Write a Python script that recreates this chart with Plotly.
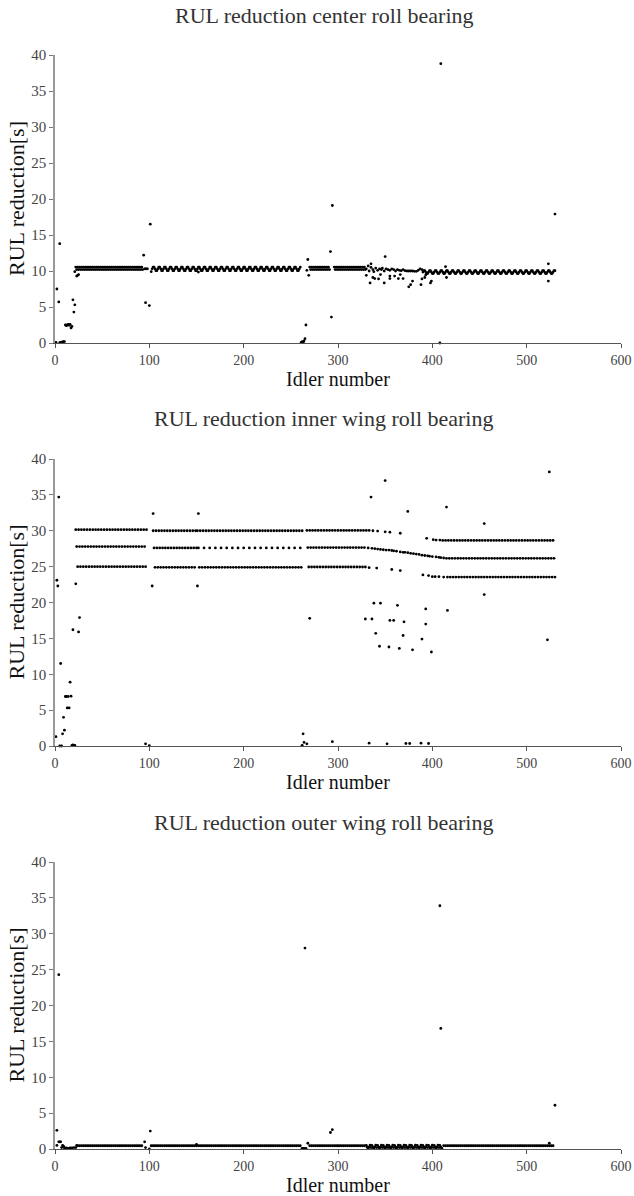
import plotly.graph_objects as go

FONT = "Liberation Serif, Times New Roman, serif"

# ---------------- tick labels / texts ----------------
idler_ticks = [0, 100, 200, 300, 400, 500, 600]
rul_ticks = [0, 5, 10, 15, 20, 25, 30, 35, 40]
panel_titles = ["RUL reduction center roll bearing",
                "RUL reduction inner wing roll bearing",
                "RUL reduction outer wing roll bearing"]
x_title = "Idler number"
y_title = "RUL reduction[s]"

# ---------------- center roll bearing ----------------
# runs of consecutive idlers: (first idler, last idler, repeating levels read from the bands; None = no dot)
center_runs = [
    (22, 93, [10.55, 10.2]),
    (95, 98, [10.3]),
    (103, 260, [10.3, 10.55, 10.55, 10.3, 10.05, 10.05]),
    (270, 291, [10.55, 10.2]),
    (296, 329, [10.55, 10.2]),
    (390, 530, [9.85, 10.05, 10.05, 9.85, 9.65, 9.65]),
]
center_mid_x = [330, 332, 333, 335, 337, 338, 340, 342, 344, 346, 347, 349, 351, 353, 355, 357,
                359, 361, 363, 365, 367, 369, 371, 373, 375, 377, 379, 381, 383, 385, 387, 389]
center_mid_y = [10.3, 10.7, 10.0, 10.5, 10.2, 9.9, 10.4, 10.1, 10.3, 10.2, 10.4, 10.0, 10.3, 10.2, 10.1, 10.3,
                10.2, 10.0, 10.2, 10.1, 10.05, 10.2, 10.05, 10.0, 10.0, 10.0, 10.0, 9.95, 9.95, 10.1, 10.3, 10.2]
center_out_x = [1, 2, 4, 5, 5, 6, 7, 8, 9, 10,
                11, 12, 13, 14, 15, 16, 17, 18, 19, 20, 21, 21, 23, 24, 25,
                94, 96, 100, 101, 102, 152,
                261, 262, 263, 264, 265, 266, 267, 268, 269,
                292, 293, 294,
                330, 334, 335, 337, 339, 343, 345, 349, 350, 355, 355, 360, 364, 366, 369,
                375, 377, 379, 388, 389, 392, 393, 398, 399,
                408, 409, 414, 415, 523, 523, 530]
center_out_y = [0.1, 7.5, 5.7, 13.8, 0.05, 0.1, 0.05, 0.15, 0.2, 0.2,
                2.5, 2.4, 2.5, 2.6, 2.45, 2.6, 2.1, 2.3, 6.0, 4.3, 5.3, 9.9, 9.3, 9.4, 9.5,
                12.2, 5.6, 5.2, 16.5, 9.9, 9.85,
                0.1, 0.2, 0.1, 0.3, 0.6, 2.5, 10.1, 11.6, 9.4,
                12.7, 3.6, 19.1,
                9.4, 8.35, 11.0, 9.1, 8.95, 8.9, 9.5, 8.35, 12.0, 9.3, 8.95, 9.3, 8.95, 9.5, 8.95,
                7.8, 8.1, 8.6, 8.1, 8.9, 9.1, 9.45, 8.35, 8.6,
                0.0, 38.8, 10.6, 9.1, 11.0, 8.6, 17.9]

# ---------------- inner wing roll bearing ----------------
inner_runs = [
    (22, 97, [30.15, 27.8, 25.0]),
    (104, 150, [30.0, 27.6, 24.9]),
    (151, 262, [30.0, 27.6, 24.9, 30.0, None, 24.9]),
    (267, 330, [30.05, 27.65, 24.95]),
    (414, 530, [28.65, 26.15, 23.55]),
]
inner_mid_x = [333, 337, 342, 350, 355, 366,                      # upper band fading
               333, 341, 357, 366,                                # lower band fading
               332, 336, 339, 342, 345, 348, 351, 354, 357, 359, 362, 366, 369, 371,
               374, 377, 380, 383, 386, 389, 392, 395, 397, 400, 404, 407, 409, 412,  # middle band
               394, 401, 404, 408, 411,                           # new upper band
               390, 396, 400, 403, 407, 412]                      # new lower band
inner_mid_y = [30.05, 30.0, 29.95, 29.85, 29.8, 29.65,
               24.85, 24.8, 24.6, 24.45,
               27.6, 27.55, 27.5, 27.45, 27.4, 27.35, 27.3, 27.3, 27.25, 27.2, 27.15, 27.05, 27.0, 27.0,
               26.95, 26.85, 26.8, 26.75, 26.7, 26.6, 26.55, 26.5, 26.45, 26.4, 26.35, 26.3, 26.25, 26.2,
               28.95, 28.75, 28.7, 28.7, 28.65,
               23.85, 23.75, 23.6, 23.6, 23.6, 23.55]
inner_out_x = [1, 2, 3, 4, 5, 6, 7, 8, 9, 10, 11, 12, 14, 17, 13, 15, 16,
               18, 19, 20, 21, 19, 22, 25, 26,
               96, 100, 103, 104, 151, 152,
               262, 263, 264, 267, 270, 294,
               335, 350, 374, 415, 455, 524, 455,
               338, 345, 363, 393, 416, 329, 336, 355, 359, 370, 393,
               340, 369, 389, 344, 354, 365, 379, 399, 522,
               333, 352, 372, 376, 388, 396]
inner_out_y = [1.3, 23.1, 22.3, 34.7, 0.0, 11.5, 0.0, 1.7, 4.0, 2.2, 6.9, 6.9, 6.9, 6.95, 5.3, 5.3, 8.9,
               0.1, 0.15, 0.1, 0.1, 16.2, 22.6, 15.9, 17.9,
               0.3, 0.05, 22.3, 32.4, 22.3, 32.4,
               0.1, 1.7, 0.5, 0.3, 17.8, 0.6,
               34.7, 37.0, 32.7, 33.3, 31.0, 38.2, 21.1,
               19.9, 19.9, 19.6, 19.1, 18.9, 17.7, 17.7, 17.5, 17.5, 17.3, 17.0,
               15.7, 15.4, 14.9, 13.9, 13.8, 13.6, 13.4, 13.1, 14.8,
               0.4, 0.3, 0.35, 0.35, 0.4, 0.35]

# ---------------- outer wing roll bearing ----------------
outer_runs = [
    (24, 93, [0.45, None]),
    (102, 260, [0.45, None]),
    (270, 329, [0.45, None]),
    (330, 410, [0.5, 0.25, 0.1, 0.3, 0.55, 0.2]),
    (412, 528, [0.45, None]),
]
outer_out_x = [2, 2, 4, 4, 5, 6, 7, 8, 9, 10, 12, 14, 16, 18, 20, 22, 23,
               95, 96, 100, 101, 150,
               262, 263, 264, 265, 266, 268, 292, 294,
               408, 409, 524, 530]
outer_out_y = [2.6, 0.5, 24.3, 1.0, 1.0, 1.0, 0.2, 0.5, 0.4, 0.15, 0.15, 0.1, 0.15, 0.15, 0.2, 0.2, 0.5,
               1.0, 0.2, 0.0, 2.5, 0.65,
               0.1, 0.05, 0.1, 28.0, 0.1, 0.8, 2.3, 2.7,
               33.9, 16.8, 0.8, 6.1]


def expand(runs):
    xs, ys = [], []
    for first, last, levels in runs:
        for k, idler in enumerate(range(first, last + 1)):
            v = levels[k % len(levels)]
            if v is not None:
                xs.append(idler)
                ys.append(v)
    return xs, ys


cx, cy = expand(center_runs)
ix, iy = expand(inner_runs)
ox, oy = expand(outer_runs)

panels = [
    (cx + center_mid_x + center_out_x, cy + center_mid_y + center_out_y),
    (ix + inner_mid_x + inner_out_x, iy + inner_mid_y + inner_out_y),
    (ox + outer_out_x, oy + outer_out_y),
]

H = 1196.0
L, R = 55, 13
plot_w = 634 - L - R
# (top px, bottom px) of each plot area
boxes = [(55, 343), (459, 746), (862, 1149)]

fig = go.Figure()
annotations = []
for i, ((px, py), (top, bot)) in enumerate(zip(panels, boxes)):
    n = "" if i == 0 else str(i + 1)
    fig.add_trace(go.Scatter(
        x=px, y=py, mode="markers", xaxis="x" + n, yaxis="y" + n,
        marker=dict(color="black", size=2.8, line=dict(width=0)),
        cliponaxis=False, showlegend=False, hoverinfo="x+y"))
    ax = dict(domain=[0, 1], range=[0, 600], tickvals=idler_ticks, showgrid=False, zeroline=False,
              showline=True, linecolor="#555555", linewidth=1, ticks="outside", ticklen=4,
              tickcolor="#555555", tickfont=dict(family=FONT, size=14, color="#444444"),
              anchor="y" + n, automargin=False)
    ay = dict(domain=[1 - bot / H, 1 - top / H], range=[0, 40], tickvals=rul_ticks, showgrid=False,
              zeroline=False, showline=True, linecolor="#999999", linewidth=1.5, ticks="outside",
              ticklen=4, tickcolor="#777777", tickfont=dict(family=FONT, size=15, color="#444444"),
              anchor="x" + n, automargin=False)
    fig.layout["xaxis" + n] = ax
    fig.layout["yaxis" + n] = ay
    annotations.append(dict(text=panel_titles[i], x=(324 - L) / plot_w, y=1 - (top - 40) / H,
                            xref="paper", yref="paper", showarrow=False, xanchor="center",
                            yanchor="middle", font=dict(family=FONT, size=22, color="#333333")))
    annotations.append(dict(text=x_title, x=0.5, y=1 - (bot + 36) / H, xref="paper", yref="paper",
                            showarrow=False, xanchor="center", yanchor="middle",
                            font=dict(family=FONT, size=20, color="#111111")))
    annotations.append(dict(text=y_title, x=(16 - L) / plot_w, y=1 - ((top + bot) / 2) / H,
                            xref="paper", yref="paper", showarrow=False, textangle=-90,
                            xanchor="center", yanchor="middle",
                            font=dict(family=FONT, size=22, color="#111111")))

fig.update_layout(width=634, height=1196, margin=dict(l=L, r=R, t=0, b=0, autoexpand=False),
                  paper_bgcolor="white", plot_bgcolor="white", annotations=annotations)
fig.write_html("out.html", config={"displayModeBar": False},
               post_script="document.body.style.margin='0';document.body.style.overflow='hidden';")
